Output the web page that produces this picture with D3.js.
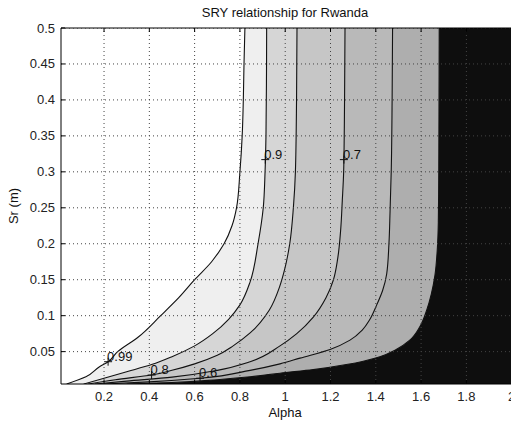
<!DOCTYPE html>
<html>
<head>
<meta charset="utf-8">
<script src="https://cdn.jsdelivr.net/npm/d3@7/dist/d3.min.js"></script>
<style>
  html, body { margin: 0; padding: 0; background: #fff; }
  svg { display: block; font-family: "Liberation Sans", Arial, sans-serif; }
</style>
</head>
<body>
<svg id="chart" width="511" height="423"></svg>
<script>
// Axis ticks
const xTicks = [0.2, 0.4, 0.6, 0.8, 1, 1.2, 1.4, 1.6, 1.8, 2];
const yTicks = [0.05, 0.1, 0.15, 0.2, 0.25, 0.3, 0.35, 0.4, 0.45, 0.5];

// Contour lines of the SRY surface, each traced as [alpha, Sr] from bottom to top
const c099 = [[0.035,0.005],[0.12,0.015],[0.18,0.029],[0.218,0.036],[0.26,0.05],[0.35,0.07],[0.45,0.1],[0.53,0.125],[0.60,0.15],[0.675,0.175],[0.73,0.2],[0.765,0.225],[0.785,0.25],[0.80,0.3],[0.81,0.35],[0.815,0.4],[0.818,0.45],[0.822,0.5]];
const c090 = [[0.11,0.005],[0.2,0.013],[0.3,0.022],[0.41,0.032],[0.5,0.043],[0.6,0.058],[0.68,0.075],[0.75,0.095],[0.80,0.115],[0.845,0.147],[0.88,0.2],[0.903,0.25],[0.911,0.3],[0.915,0.35],[0.917,0.42],[0.918,0.5]];
const c080 = [[0.13,0.005],[0.25,0.011],[0.41,0.0175],[0.5,0.024],[0.6,0.033],[0.7,0.045],[0.77,0.058],[0.845,0.076],[0.93,0.108],[0.975,0.14],[0.998,0.165],[1.02,0.2],[1.036,0.25],[1.045,0.3],[1.05,0.4],[1.052,0.5]];
const c070 = [[0.16,0.005],[0.3,0.009],[0.5,0.0145],[0.7,0.024],[0.845,0.036],[0.977,0.058],[1.051,0.075],[1.124,0.098],[1.18,0.125],[1.213,0.15],[1.232,0.18],[1.245,0.22],[1.252,0.26],[1.258,0.3],[1.262,0.4],[1.264,0.5]];
const c060 = [[0.2,0.005],[0.4,0.008],[0.624,0.013],[0.845,0.024],[0.977,0.033],[1.065,0.041],[1.198,0.053],[1.286,0.066],[1.34,0.08],[1.374,0.095],[1.404,0.115],[1.43,0.135],[1.448,0.158],[1.458,0.2],[1.463,0.246],[1.468,0.3],[1.472,0.4],[1.474,0.5]];
const cEdge = [[0.3,0.005],[0.5,0.007],[0.7,0.011],[0.845,0.015],[0.977,0.02],[1.124,0.025],[1.27,0.032],[1.418,0.043],[1.49,0.053],[1.55,0.066],[1.595,0.085],[1.625,0.108],[1.645,0.13],[1.661,0.156],[1.671,0.19],[1.676,0.23],[1.678,0.3],[1.68,0.5]];

const contourLines = [c099, c090, c080, c070, c060, cEdge];
// Fill of the region to the right of each contour (gray colormap)
const bandColors = ["#efefef", "#d6d6d6", "#c6c6c6", "#b9b9b9", "#aeaeae", "#0e0e0e"];

// Contour labels: level text and the point on its line
const labelText = ["0.99", "0.9", "0.8", "0.7", "0.6"];
const labelAt = [[0.218,0.036],[0.912,0.317],[0.41,0.0175],[1.259,0.317],[0.624,0.013]];

const svg = d3.select("#chart");
const L = 61, R = 511.7, T = 28, B = 384;
const x = d3.scaleLinear().domain([0.01, 2]).range([L, R]);
const y = d3.scaleLinear().domain([0.005, 0.5]).range([B, T]);

svg.append("defs").append("clipPath").attr("id", "plotclip")
  .append("rect").attr("x", L).attr("y", T).attr("width", R - L).attr("height", B - T);

const plot = svg.append("g").attr("clip-path", "url(#plotclip)");
plot.append("rect").attr("x", L).attr("y", T).attr("width", R - L).attr("height", B - T).attr("fill", "#fff");

const line = d3.line().x(d => x(d[0])).y(d => y(d[1])).curve(d3.curveMonotoneY);

// filled bands
contourLines.forEach((pts, i) => {
  const d = line(pts) + "L" + x(2.05) + "," + y(0.5) + "L" + x(2.05) + "," + y(0.0) + "L" + x(pts[0][0]) + "," + y(0.0) + "Z";
  plot.append("path").attr("d", d).attr("fill", bandColors[i]).attr("stroke", "none");
});

// contour lines
contourLines.forEach(pts => {
  plot.append("path").attr("d", line(pts)).attr("fill", "none")
    .attr("stroke", "#111").attr("stroke-width", 1.1);
});

// dotted grid
const grid = svg.append("g").attr("stroke", "#444").attr("stroke-width", 1)
  .attr("stroke-dasharray", "1,3").attr("clip-path", "url(#plotclip)");
xTicks.forEach(t => grid.append("line").attr("x1", x(t)).attr("x2", x(t)).attr("y1", B).attr("y2", T));
yTicks.forEach(t => grid.append("line").attr("x1", L).attr("x2", R).attr("y1", y(t)).attr("y2", y(t)));

// contour labels with + markers
const lab = svg.append("g");
labelAt.forEach((p, i) => {
  const px = x(p[0]), py = y(p[1]);
  lab.append("path").attr("d", `M${px-4},${py}H${px+4}M${px},${py-4}V${py+4}`)
    .attr("stroke", "#111").attr("stroke-width", 1);
  lab.append("text").attr("x", px - 1).attr("y", py - 1).attr("font-size", 13)
    .attr("fill", "#111").text(labelText[i]);
});

// axes box and inward ticks
const axes = svg.append("g").attr("stroke", "#000").attr("stroke-width", 1).attr("fill", "none");
axes.append("path").attr("d", `M${R},${T}H${L}V${B}H${R}`);
xTicks.forEach(t => {
  axes.append("line").attr("x1", x(t)).attr("x2", x(t)).attr("y1", B).attr("y2", B - 4);
  axes.append("line").attr("x1", x(t)).attr("x2", x(t)).attr("y1", T).attr("y2", T + 4);
});
yTicks.forEach(t => {
  axes.append("line").attr("x1", L).attr("x2", L + 4).attr("y1", y(t)).attr("y2", y(t));
});

// tick labels
const fmt = d => String(+d.toFixed(2));
svg.append("g").selectAll("text").data(xTicks).join("text")
  .attr("x", d => x(d)).attr("y", 401).attr("text-anchor", "middle")
  .attr("font-size", 13).attr("fill", "#222").text(fmt);
svg.append("g").selectAll("text").data(yTicks).join("text")
  .attr("x", 55).attr("y", d => y(d) + 4.5).attr("text-anchor", "end")
  .attr("font-size", 13).attr("fill", "#222").text(fmt);

// titles
svg.append("text").attr("x", 285).attr("y", 17).attr("text-anchor", "middle")
  .attr("font-size", 13).attr("fill", "#111").text("SRY relationship for Rwanda");
svg.append("text").attr("x", 285).attr("y", 417).attr("text-anchor", "middle")
  .attr("font-size", 13).attr("fill", "#111").text("Alpha");
svg.append("text").attr("transform", `translate(18,${(T + B) / 2}) rotate(-90)`)
  .attr("text-anchor", "middle").attr("font-size", 13).attr("fill", "#111").text("Sr (m)");
</script>
</body>
</html>
